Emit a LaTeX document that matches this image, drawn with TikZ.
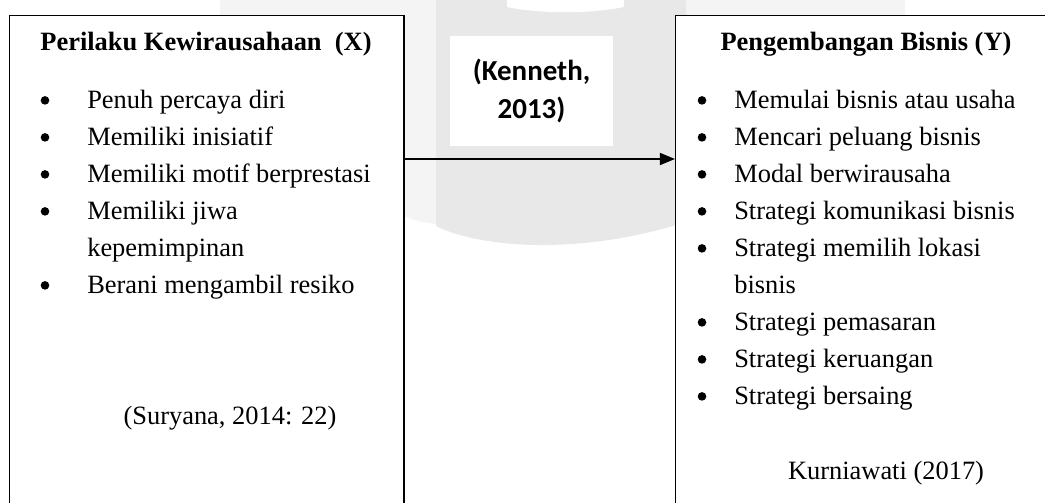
\documentclass[tikz,border=0pt]{standalone}
\usepackage{fontspec}
\setmainfont{Liberation Serif}
\newfontfamily\calibri{Carlito}
\usetikzlibrary{arrows.meta}
\definecolor{wmlight}{HTML}{F4F4F4}
\definecolor{wmdark}{HTML}{E8E8E8}
\tikzset{
  box/.style={draw, fill=white, line width=1pt, anchor=north west, minimum height=13cm, inner sep=0},
  txt/.style={font=\fontsize{18.8}{26}\selectfont, anchor=base west, inner sep=0},
  ttl/.style={font=\fontsize{18.8}{26}\selectfont\bfseries, anchor=base, inner sep=0},
  bul/.style={circle, fill=black, minimum size=0.215cm, inner sep=0, yshift=0.215cm},
}
\begin{document}
\begin{tikzpicture}[x=0.025cm,y=-0.025cm]
      \clip (0,0) rectangle (1045,503);
      % watermark behind
      \fill[wmlight] (220,0) rectangle (905,16);
      \fill[wmlight] (403,0) -- (436,0) -- (436,224) .. controls (420,222) .. (403,216) -- cycle;
      \fill[wmdark] (436,0) -- (686,0) -- (686,222) .. controls (580,256) and (480,248) .. (436,226) -- cycle;
      \fill[white] (507,0) -- (624,0) -- (624,7) .. controls (590,14) and (540,14) .. (507,7) -- cycle;

      \node[box, minimum width=9.85cm] (X) at (9,15) {};
      \node[box, minimum width=10cm] (Y) at (675,15) {};

      \node[fill=white, minimum width=4.075cm, minimum height=2.75cm, inner sep=0, align=center,
            font=\calibri\bfseries\fontsize{20.6}{27}\selectfont] (ken) at (531.5,91) {(Kenneth,\\2013)};

      \node[ttl] (Xt) at (206,51) {Perilaku Kewirausahaan\ \ (X)};
      \node[ttl] (Yt) at (866,51) {Pengembangan Bisnis (Y)};

      \foreach \y/\t [count=\i] in {109/Penuh percaya diri, 146/Memiliki inisiatif,
          183/Memiliki motif berprestasi, 220/Memiliki jiwa, 294/Berani mengambil resiko} {
        \node[bul] (xb\i) at (45,\y) {};
        \node[txt] (x\i) at (87,\y) {\t};
      }
      \node[txt] (x4b) at (87,257) {kepemimpinan};

      \foreach \y/\t [count=\i] in {109/Memulai bisnis atau usaha, 146/Mencari peluang bisnis,
          183/Modal berwirausaha, 220/Strategi komunikasi bisnis, 257/Strategi memilih lokasi,
          331/Strategi pemasaran, 368/Strategi keruangan, 405/Strategi bersaing} {
        \node[bul] (yb\i) at (702,\y) {};
        \node[txt] (y\i) at (734,\y) {\t};
      }
      \node[txt] (y5b) at (734,294) {bisnis};

      \node[txt, anchor=base] (Xs) at (230,425) {(Suryana, 2014: 22)};
      \node[txt, anchor=base] (Ys) at (886,480) {Kurniawati (2017)};

      \coordinate (m) at (540,159);
      \draw[line width=1.4pt, -{Triangle[length=0.38cm,width=0.3cm]}] (X.east |- m) -- (Y.west |- m);
\end{tikzpicture}
\end{document}
